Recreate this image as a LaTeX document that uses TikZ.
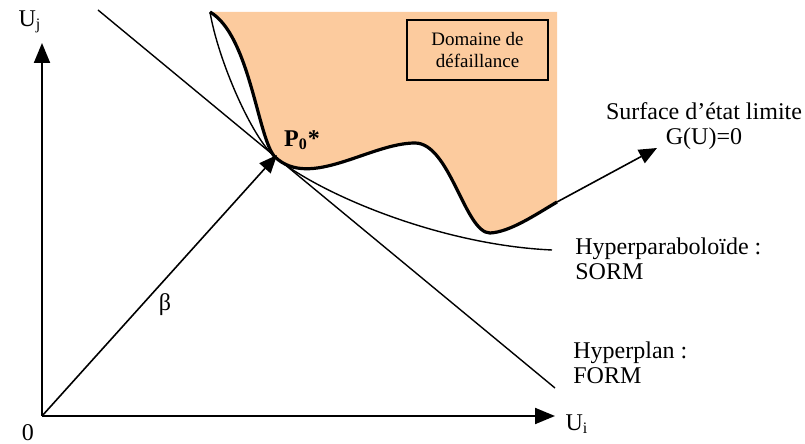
\documentclass[tikz,border=0pt]{standalone}
\usepackage{amsmath}
\usepackage{fontspec}
\setmainfont{Liberation Serif}
\usetikzlibrary{arrows.meta}
\definecolor{peach}{RGB}{252,203,158}

\begin{document}
\begin{tikzpicture}[x=0.5pt, y=-0.5pt,
  axis/.style={line width=1pt, -{Triangle[length=10pt,width=8pt]}},
  pointer/.style={line width=0.8pt, -{Triangle[length=9pt,width=7.5pt]}},
  lbl/.style={font=\fontsize{12}{12.5}\selectfont, align=left, inner sep=0pt},
  limit/.style={line width=1.6pt, line join=round},
  approx/.style={line width=0.7pt}]
  \useasboundingbox (0,0) rectangle (805,444);
  % points
  \coordinate (O) at (42,416);
  \coordinate (yend) at (42,43);
  \coordinate (xend) at (555,416);
  \coordinate (P0) at (275,157);
  \coordinate (top) at (210,12);
  \coordinate (peak) at (415,143);
  \coordinate (trough) at (490,233);
  \coordinate (gend) at (557,202);
  \coordinate (send) at (552,250);
  \coordinate (fa) at (98,10);
  \coordinate (fb) at (555,388);
  \coordinate (gtip) at (657,148);
  % failure domain
  \fill[peach] (top) .. controls (250,35) and (258,140) .. (P0)
    .. controls (310,190) and (370,143) .. (peak)
    .. controls (450,143) and (465,233) .. (trough)
    .. controls (510,232) and (535,215) .. (gend)
    -- (557,12) -- (212,12) -- cycle;
  % approximations
  \draw[approx] (fa) -- (fb);
  \draw[approx] (top) .. controls (218,60) and (252,138) .. (P0)
    .. controls (320,194) and (440,245) .. (send);
  % limit state
  \draw[limit] (top) .. controls (250,35) and (258,140) .. (P0)
    .. controls (310,190) and (370,143) .. (peak)
    .. controls (450,143) and (465,233) .. (trough)
    .. controls (510,232) and (535,215) .. (gend);
  % axes
  \draw[axis] (O) -- (yend);
  \draw[axis] (O) -- (xend);
  \draw[pointer] (O) -- (277,155);
  \draw[pointer] (gend) -- (gtip);
  % labels
  \node (uj) at (30,22) {\fontsize{12}{12}\selectfont U$_\text{j}$};
  \node (zero) at (28,433) {\fontsize{12}{12}\selectfont 0};
  \node (ui) at (577,424) {\fontsize{12}{12}\selectfont U$_\text{i}$};
  \node (beta) at (165,305) {\fontsize{12}{12}\selectfont β};
  \node (p0) at (302,140) {\fontsize{12}{12}\selectfont\bfseries P$_{\mathbf{0}}$*};
  \node[draw, line width=0.8pt, minimum width=70.5pt, minimum height=30pt,
    align=center, font=\fontsize{9.5}{11}\selectfont] (dom) at (477.5,50)
    {Domaine de\\défaillance};
  \node[lbl, align=center] (surf) at (704,126) {Surface d'état limite\\G(U)=0};
  \node[lbl, anchor=west] (sorm) at (575,259) {Hyperparaboloïde :\\SORM};
  \node[lbl, anchor=west] (form) at (573,363) {Hyperplan :\\FORM};
\end{tikzpicture}
\end{document}
